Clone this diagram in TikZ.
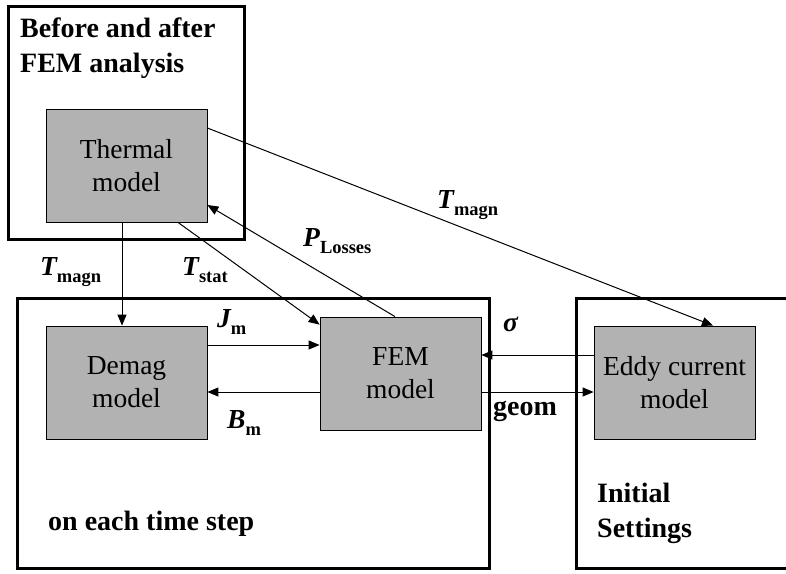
\documentclass[tikz,border=0pt]{standalone}
\usepackage{fontspec}
\setmainfont{Liberation Serif}
\usetikzlibrary{arrows.meta}
\definecolor{boxgray}{RGB}{178,178,178}

% label with a bold italic main symbol and a bold upright subscript
\newcommand{\qty}[2]{{\fontsize{27.5}{27.5}\selectfont\bfseries\itshape #1}\raisebox{-7.5pt}{\fontsize{18.5}{18.5}\selectfont\bfseries #2}}

\begin{document}
\begin{tikzpicture}[x=1pt,y=-1pt,
  frame/.style={draw,line width=3pt},
  model/.style={draw,fill=boxgray,line width=0.8pt,minimum width=161pt,minimum height=113pt,
    align=center,inner sep=0pt,font=\fontsize{27.5}{33}\selectfont},
  link/.style={draw,line width=1pt,-{Triangle[length=11pt,width=9pt]}},
  lab/.style={anchor=base west,inner sep=0pt},
  title/.style={anchor=base west,inner sep=0pt,font=\fontsize{28}{28}\selectfont\bfseries}]
\useasboundingbox (0,0) rectangle (786,573);

% group frames
\draw[frame] (8,6) rectangle (244,239);
\draw[frame] (17,298) rectangle (489,568);
\draw[frame] (576,298) rectangle (800,568);

% models
\node[model] (thermal) at (126.5,165.5) {Thermal\\model};
\node[model] (demag) at (126.5,382.5) {Demag\\model};
\node[model] (fem) at (400.5,373.5) {FEM\\model};
\node[model] (eddy) at (674.5,382.5) {Eddy current\\model};

% connectors
\draw[link] ([xshift=-4.5pt]thermal.south) -- ([xshift=-4.5pt]demag.north);
\draw[link] ([xshift=51.5pt]thermal.south) -- ([yshift=-8pt]fem.north west);
\draw[link] ([xshift=-5.5pt]fem.north) -- ([yshift=-39.5pt]thermal.east);
\draw[link] ([yshift=37.5pt]thermal.east) -- ([xshift=38.5pt]eddy.north);
\draw[link] ([yshift=37.5pt]demag.east) -- ([yshift=37.5pt]demag.east -| fem.west);
\draw[link] ([yshift=-18.5pt]fem.west) -- ([yshift=-18.5pt]fem.west -| demag.east);
\draw[link] ([yshift=27.5pt]eddy.west) -- ([yshift=27.5pt]eddy.west -| fem.east);
\draw[link] ([yshift=-18.5pt]fem.east) -- ([yshift=-18.5pt]fem.east -| eddy.west);

% connector labels
\node[lab] (lTmagnA) at (40,275) {\qty{T}{magn}};
\node[lab] (lTstat) at (182,275) {\qty{T}{stat}};
\node[lab] (lJm) at (217,327) {\qty{J}{m}};
\node[lab] (lBm) at (227,428) {\qty{B}{m}};
\node[lab] (lsigma) at (503,331) {\fontsize{27.5}{27.5}\selectfont\bfseries\itshape σ};
\node[lab] (lgeom) at (493,415) {\fontsize{28}{28}\selectfont\bfseries geom};
\node[lab] (lPloss) at (303,246) {\qty{P}{Losses}};
\node[lab] (lTmagnB) at (437,208) {\qty{T}{magn}};

% group titles
\node[title] (tA1) at (20,37) {Before and after};
\node[title] (tA2) at (20,72) {FEM analysis};
\node[title] (tB) at (48,530) {on each time step};
\node[title] (tC1) at (597,502) {Initial};
\node[title] (tC2) at (597,537) {Settings};
\end{tikzpicture}
\end{document}
